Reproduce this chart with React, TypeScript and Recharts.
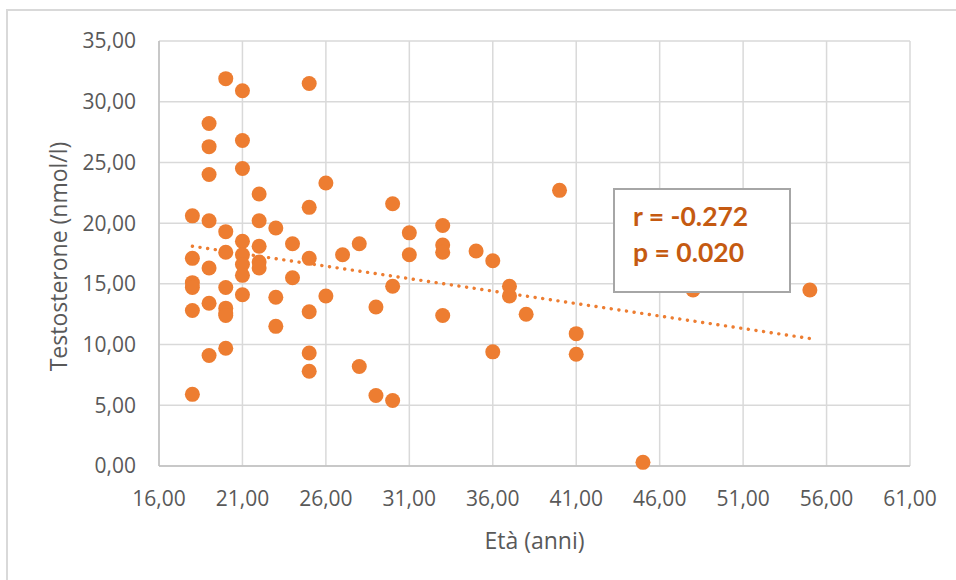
import React from 'react';
import { ScatterChart, Scatter, XAxis, YAxis, CartesianGrid, ReferenceLine } from 'recharts';

const ages = [
  18, 18, 18, 18, 18, 18,
  19, 19, 19, 19, 19, 19, 19,
  20, 20, 20, 20, 20, 20, 20, 20,
  21, 21, 21, 21, 21, 21, 21, 21,
  22, 22, 22, 22, 22,
  23, 23, 23,
  24, 24,
  25, 25, 25, 25, 25, 25,
  26, 26,
  27,
  28, 28,
  29, 29,
  30, 30, 30,
  31, 31,
  33, 33, 33, 33,
  35,
  36, 36,
  37, 37,
  38,
  40,
  41, 41,
  45,
  48,
  55,
];

const testosterone = [
  20.6, 17.1, 15.1, 14.7, 12.8, 5.9,
  28.2, 26.3, 24.0, 20.2, 16.3, 13.4, 9.1,
  31.9, 19.3, 17.6, 14.7, 13.0, 12.6, 12.4, 9.7,
  30.9, 26.8, 24.5, 18.5, 17.4, 16.6, 15.7, 14.1,
  22.4, 20.2, 18.1, 16.8, 16.3,
  19.6, 13.9, 11.5,
  18.3, 15.5,
  31.5, 21.3, 17.1, 12.7, 9.3, 7.8,
  23.3, 14.0,
  17.4,
  18.3, 8.2,
  13.1, 5.8,
  21.6, 14.8, 5.4,
  19.2, 17.4,
  19.8, 18.2, 17.6, 12.4,
  17.7,
  16.9, 9.4,
  14.8, 14.0,
  12.5,
  22.7,
  10.9, 9.2,
  0.3,
  14.5,
  14.5,
];

const xTicks = [16, 21, 26, 31, 36, 41, 46, 51, 56, 61];
const yTicks = [0, 5, 10, 15, 20, 25, 30, 35];

// trendline end points
const trendAges = [18, 55];
const trendValues = [18.1, 10.5];

const statLines = ['r = -0.272', 'p = 0.020'];

const points = ages.map((a, i) => ({ x: a, y: testosterone[i] }));
const trend = trendAges.map((a, i) => ({ x: a, y: trendValues[i] }));

const fmt = (v: number) => v.toFixed(2).replace('.', ',');

const ORANGE = '#ED7D31';
const FONT = '"Open Sans", sans-serif';

const Dot = (props: any) => {
  const { cx, cy } = props;
  if (cx == null || cy == null) return null;
  return <circle cx={cx} cy={cy} r={7.5} fill={ORANGE} />;
};

const YTitle = (props: any) => {
  const vb = props.viewBox || {};
  const cx = 58;
  const cy = (vb.y ?? 41) + (vb.height ?? 425) / 2 + 3;
  return (
    <text
      x={cx}
      y={cy}
      transform={`rotate(-90, ${cx}, ${cy})`}
      textAnchor="middle"
      dominantBaseline="central"
      fill="#595959"
      fontSize={23}
      fontFamily={FONT}
    >
      Testosterone (nmol/l)
    </text>
  );
};

export default function App() {
  return (
    <div style={{ position: 'absolute', left: 0, top: 0, width: 956, height: 580, background: '#fff', overflow: 'hidden' }}>
      <div
        style={{
          position: 'absolute',
          left: 6,
          top: 9,
          width: 970,
          height: 600,
          border: '2px solid #D9D9D9',
          boxSizing: 'border-box',
        }}
      />
      <div style={{ position: 'absolute', left: 0, top: 0 }}>
        <ScatterChart width={956} height={580} margin={{ top: 41, right: 46, bottom: 0, left: 0 }}>
          <CartesianGrid stroke="#D9D9D9" strokeWidth={1.5} />
          <XAxis
            type="number"
            dataKey="x"
            domain={[16, 61]}
            ticks={xTicks}
            tickFormatter={fmt}
            height={114}
            tickSize={0}
            tickMargin={25}
            axisLine={{ stroke: '#BFBFBF', strokeWidth: 1.5 }}
            tick={{ fill: '#595959', fontSize: 21, fontFamily: FONT }}
            label={{ value: 'Età (anni)', position: 'insideBottom', offset: 31, fill: '#595959', fontSize: 23, fontFamily: FONT }}
          />
          <YAxis
            type="number"
            dataKey="y"
            domain={[0, 35]}
            ticks={yTicks}
            tickFormatter={fmt}
            width={159}
            tickSize={0}
            tickMargin={23}
            axisLine={{ stroke: '#BFBFBF', strokeWidth: 1.5 }}
            tick={{ fill: '#595959', fontSize: 21, fontFamily: FONT }}
            label={<YTitle />}
          />
          <Scatter data={points} fill={ORANGE} shape={<Dot />} isAnimationActive={false} />
          <ReferenceLine
            segment={trend}
            stroke={ORANGE}
            strokeWidth={3.4}
            strokeDasharray="0.1 7.6"
            strokeLinecap="round"
            ifOverflow="visible"
          />
        </ScatterChart>
      </div>
      <svg width={956} height={580} style={{ position: 'absolute', left: 0, top: 0, pointerEvents: 'none' }}>
        <rect x={614} y={189} width={176} height={103} fill="#fff" stroke="#A6A6A6" strokeWidth={2} />
        {statLines.map((t, i) => (
          <text
            key={t}
            x={633}
            y={226 + i * 36}
            fill="#C55A11"
            fontSize={26.5}
            fontWeight={700}
            fontFamily="Lato, sans-serif"
          >
            {t}
          </text>
        ))}
      </svg>
    </div>
  );
}
